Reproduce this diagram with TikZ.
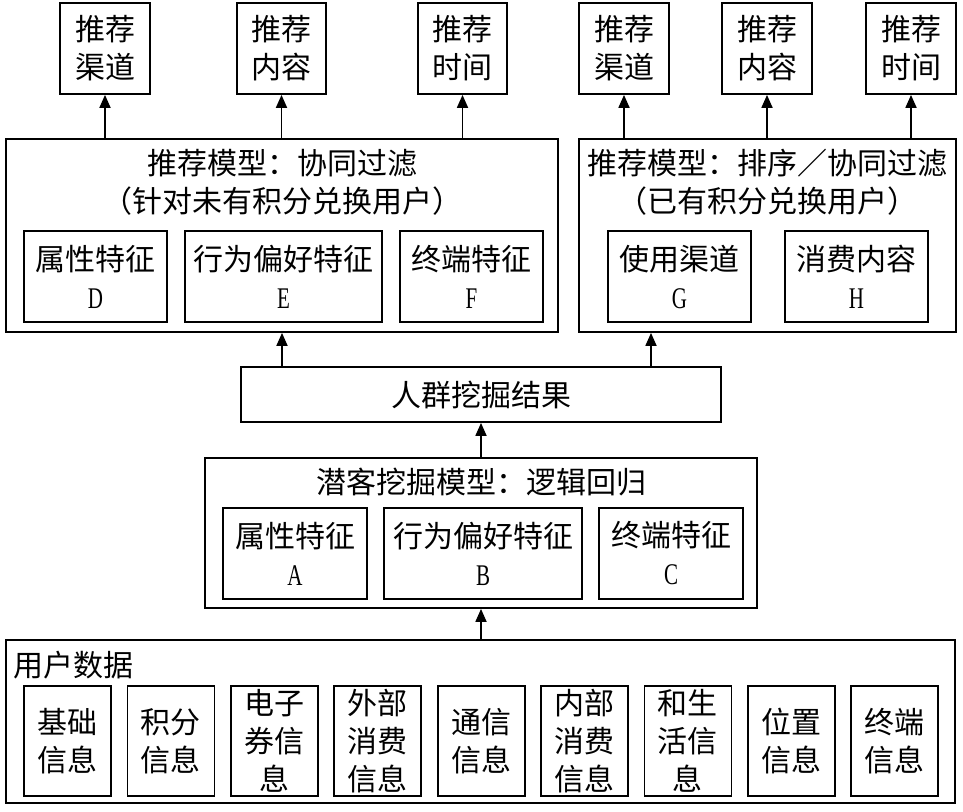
\documentclass[tikz,border=0pt]{standalone}
\usepackage{fontspec}
\newfontfamily\cjk{Noto Sans CJK SC}
\newfontfamily\lat[FakeStretch=0.7]{Liberation Serif}
\usetikzlibrary{arrows.meta}
\begin{document}
\begin{tikzpicture}[x=1pt,y=-1pt,
  box/.style={draw, line width=1.8pt, inner sep=0pt, align=center, font=\cjk\fontsize{30}{38}\selectfont},
  txt/.style={inner sep=0pt, align=center, font=\cjk\fontsize{30}{38}\selectfont},
  arr/.style={line width=1.8pt, -{Triangle[length=13pt,width=11pt]}}]
\useasboundingbox (0,0) rectangle (963,811);
\fill[white] (0,0) rectangle (963,811);
% top outputs
\node[box, minimum width=90pt, minimum height=91pt] (t1) at (105,48.5) {推荐\\渠道};
\node[box, minimum width=89pt, minimum height=91pt] (t2) at (281.5,48.5) {推荐\\内容};
\node[box, minimum width=89pt, minimum height=91pt] (t3) at (462.5,48.5) {推荐\\时间};
\node[box, minimum width=90pt, minimum height=91pt] (t4) at (624,48.5) {推荐\\渠道};
\node[box, minimum width=90pt, minimum height=91pt] (t5) at (767,48.5) {推荐\\内容};
\node[box, minimum width=90pt, minimum height=91pt] (t6) at (911,48.5) {推荐\\时间};
% recommendation models
\node[box, minimum width=552pt, minimum height=193pt] (m1) at (282,235.5) {};
\node[txt] (m1t) at (282,182.5) {推荐模型：协同过滤\\（针对未有积分兑换用户）};
\node[box, minimum width=143pt, minimum height=91pt] (d) at (95.5,276.5) {属性特征\\{\lat D}};
\node[box, minimum width=197pt, minimum height=91pt] (e) at (283.5,276.5) {行为偏好特征\\{\lat E}};
\node[box, minimum width=143pt, minimum height=91pt] (f) at (471.5,276.5) {终端特征\\{\lat F}};
\node[box, minimum width=377pt, minimum height=193pt] (m2) at (767.5,235.5) {};
\node[txt] (m2t) at (767.5,182.5) {推荐模型：排序／协同过滤\\（已有积分兑换用户）};
\node[box, minimum width=143pt, minimum height=91pt] (g) at (679.5,276.5) {使用渠道\\{\lat G}};
\node[box, minimum width=143pt, minimum height=91pt] (h) at (856.5,276.5) {消费内容\\{\lat H}};
% crowd mining result
\node[box, minimum width=480pt, minimum height=55pt] (r) at (481,394.5) {人群挖掘结果};
% potential customer model
\node[box, minimum width=552pt, minimum height=150pt] (p) at (481,533) {};
\node[txt] (pt) at (481,482) {潜客挖掘模型：逻辑回归};
\node[box, minimum width=144pt, minimum height=91pt] (a) at (295,553.5) {属性特征\\{\lat A}};
\node[box, minimum width=198pt, minimum height=91pt] (b) at (483,553.5) {行为偏好特征\\{\lat B}};
\node[box, minimum width=144pt, minimum height=91pt] (c) at (671,553.5) {终端特征\\{\lat C}};
% user data
\node[box, minimum width=949pt, minimum height=163pt] (u) at (480.5,721.5) {};
\node[txt, anchor=west] (ut) at (13,665) {用户数据};
\foreach \i/\t in {1/{基础\\信息},2/{积分\\信息},3/{电子\\券信\\息},4/{外部\\消费\\信息},5/{通信\\信息},6/{内部\\消费\\信息},7/{和生\\活信\\息},8/{位置\\信息},9/{终端\\信息}}
  \node[box, minimum width=87pt, minimum height=110pt] (u\i) at ({67.5+103.4*(\i-1)},741) {\t};
% connectors
\draw[arr] (t1.south |- m1.north) -- (t1.south);
\draw[arr] (t2.south |- m1.north) -- (t2.south);
\draw[arr] (t3.south |- m1.north) -- (t3.south);
\draw[arr] (t4.south |- m2.north) -- (t4.south);
\draw[arr] (t5.south |- m2.north) -- (t5.south);
\draw[arr] (t6.south |- m2.north) -- (t6.south);
\draw[arr] (m1.south |- r.north) -- (m1.south);
\draw[arr] ([xshift=170pt]r.north) -- ([xshift=170pt]r.north |- m2.south);
\draw[arr] (p.north) -- (r.south);
\draw[arr] (u.north -| p.south) -- (p.south);
\end{tikzpicture}
\end{document}
